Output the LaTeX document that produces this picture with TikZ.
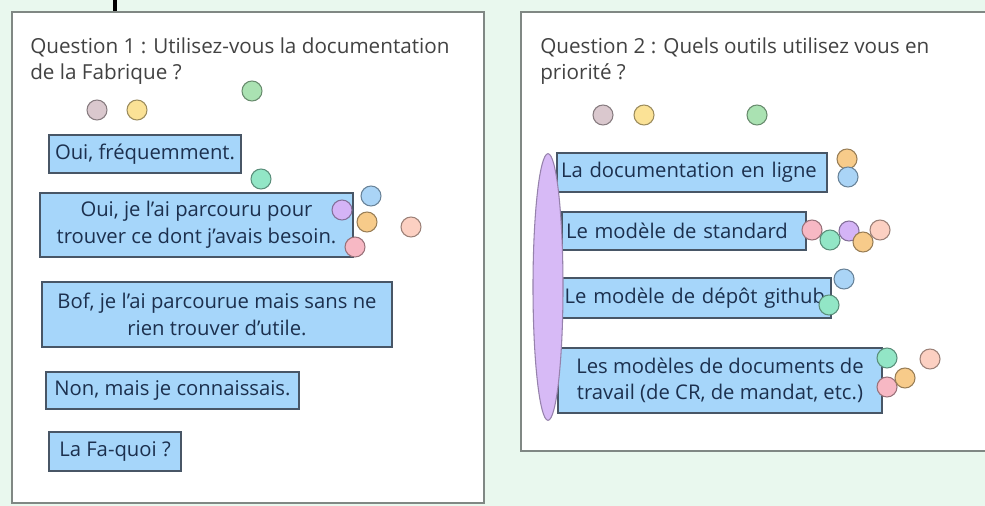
\documentclass[tikz,border=0pt]{standalone}
\usepackage{fontspec}
\setmainfont{Open Sans}
\usepackage{xcolor}
\usetikzlibrary{shapes.geometric}

\definecolor{mint}{RGB}{233,248,238}
\definecolor{panelline}{RGB}{128,136,132}
\definecolor{qtext}{RGB}{66,66,66}
\definecolor{boxfill}{RGB}{166,214,250}
\definecolor{boxline}{RGB}{72,86,102}
\definecolor{boxtext}{RGB}{28,48,78}
\definecolor{lavender}{RGB}{215,186,246}
\definecolor{dgray}{RGB}{218,200,206}
\definecolor{dyellow}{RGB}{251,226,150}
\definecolor{dgreen}{RGB}{170,226,178}
\definecolor{dteal}{RGB}{146,230,198}
\definecolor{dblue}{RGB}{170,212,246}
\definecolor{dpurple}{RGB}{212,180,246}
\definecolor{dorange}{RGB}{247,203,138}
\definecolor{dpeach}{RGB}{252,208,194}
\definecolor{dpink}{RGB}{247,184,196}

\begin{document}
\begin{tikzpicture}[x=0.75pt,y=-0.75pt,
  panel/.style={draw=panelline,line width=1.2pt,fill=white},
  question/.style={anchor=north west,inner sep=0pt,align=left,text=qtext,
    font=\fontsize{15.5}{19}\selectfont},
  answer/.style={draw=boxline,fill=boxfill,text=boxtext,line width=0.8pt,
    inner sep=0pt,align=center,font=\fontsize{15.2}{20}\selectfont},
  tool/.style={answer,align=left,inner xsep=3pt,text width=#1},
  dot/.style={circle,draw=#1!62!black,fill=#1,line width=0.8pt,
    minimum size=15pt,inner sep=0pt}]
  \clip (0,0) rectangle (985,506);
  \fill[mint] (0,0) rectangle (985,506);
  \fill (113,0) rectangle (117,11);

  % the two panels
  \draw[panel] (12,12) rectangle (484,503);
  \draw[panel] (521,12) rectangle (995,451);

  % question 1
  \node[question] (q1) at (30,38) {Question 1 : Utilisez-vous la documentation\\de la Fabrique ?};
  \node[answer,minimum width=144pt,minimum height=28.5pt] (a1) at (145,154) {Oui, fréquemment.};
  \node[answer,minimum width=234.75pt,minimum height=48pt] (a2) at (196.5,225)
    {Oui, je l'ai parcouru pour\\trouver ce dont j'avais besoin.};
  \node[answer,minimum width=262.5pt,minimum height=48.75pt] (a3) at (217,314.5)
    {Bof, je l'ai parcourue mais sans ne\\rien trouver d'utile.};
  \node[answer,minimum width=189.75pt,minimum height=27.75pt] (a4) at (172.5,390.5) {Non, mais je connaissais.};
  \node[answer,minimum width=99pt,minimum height=29.25pt] (a5) at (115,451.5) {La Fa-quoi ?};

  % question 2
  \node[question] (q2) at (540,38) {Question 2 : Quels outils utilisez vous en\\priorité ?};
  \node[tool=196.5pt,minimum height=29.25pt] (t1) at (692,172.5) {La documentation en ligne};
  \node[tool=177pt,minimum height=28.5pt] (t2) at (684,231) {Le modèle de standard};
  \node[tool=197.75pt,minimum height=30pt,inner xsep=2pt] (t3) at (696.5,298) {Le modèle de dépôt github};
  \node[answer,minimum width=243pt,minimum height=48.75pt] (t4) at (720,380.5)
    {Les modèles de documents de\\travail (de CR, de mandat, etc.)};
  \node[ellipse,draw=lavender!70!black,fill=lavender,line width=0.8pt,
    minimum width=22.5pt,minimum height=200pt,inner sep=0pt] (rank) at (548,287) {};

  % votes, left
  \foreach \x/\y/\c [count=\i] in {97/110/dgray,137/110/dyellow,252/91/dgreen,261/179/dteal,
      371/196/dblue,342/210/dpurple,367/222/dorange,411/227/dpeach,355/247/dpink}
    \node[dot=\c] (v\i) at (\x,\y) {};
  % votes, right
  \foreach \x/\y/\c [count=\i] in {603/115/dgray,644/115/dyellow,757/115/dgreen,
      847/159/dorange,848/177/dblue,812/230/dpink,830/240/dteal,849/231/dpurple,
      863/242/dorange,880/230/dpeach,844/279/dblue,829/305/dteal,
      887/358/dteal,887/387/dpink,905/378/dorange,930/359/dpeach}
    \node[dot=\c] (w\i) at (\x,\y) {};
\end{tikzpicture}
\end{document}
